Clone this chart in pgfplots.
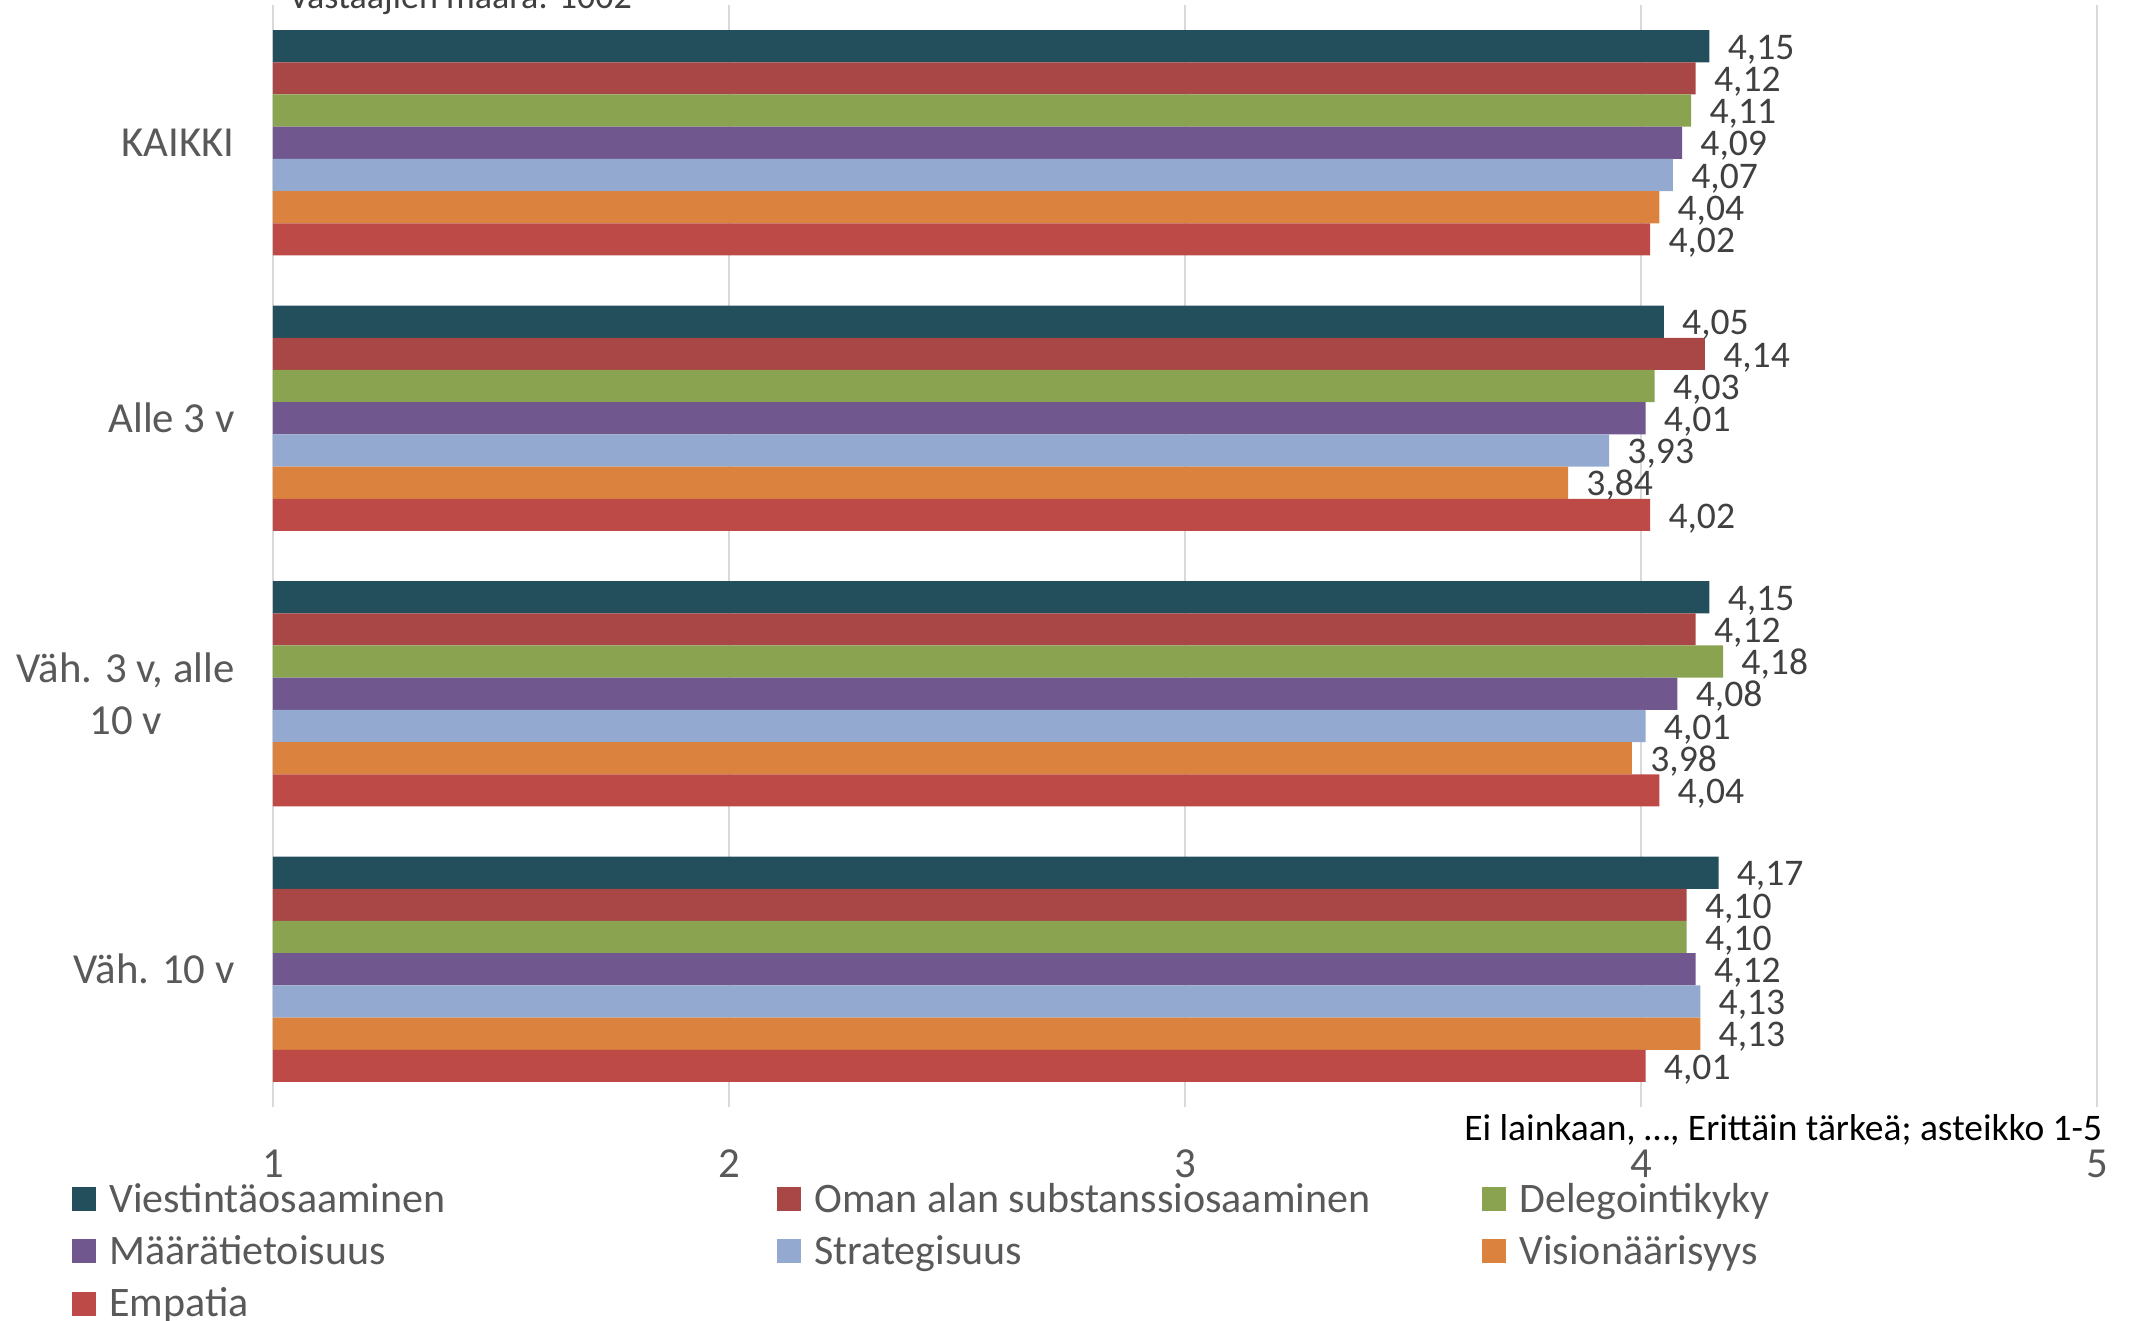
\documentclass[border=0pt]{standalone}
\usepackage{fontspec}
\setmainfont{Carlito}
\usepackage{pgfplots}
\pgfplotsset{compat=1.18}
\usepackage{pgfplotstable}

\definecolor{cViest}{HTML}{234E5B}
\definecolor{cOman}{HTML}{A84746}
\definecolor{cDeleg}{HTML}{8AA350}
\definecolor{cMaara}{HTML}{70578D}
\definecolor{cStrat}{HTML}{93A9CF}
\definecolor{cVisio}{HTML}{DB823E}
\definecolor{cEmpat}{HTML}{BE4A48}
\definecolor{gridgray}{HTML}{D9D9D9}
\definecolor{labelgray}{HTML}{595959}
\definecolor{valgray}{HTML}{404040}

% rows: KAIKKI, Alle 3 v, Väh. 3 v alle 10 v, Väh. 10 v
\pgfplotstableread{
y vi   om   de   ma   st   vis  em
0 4.15 4.12 4.11 4.09 4.07 4.04 4.02
1 4.05 4.14 4.03 4.01 3.93 3.84 4.02
2 4.15 4.12 4.18 4.08 4.01 3.98 4.04
3 4.17 4.10 4.10 4.12 4.13 4.13 4.01
}\datatable

\begin{document}
\begin{tikzpicture}
\begin{axis}[
  width=456pt, height=275.5pt, scale only axis,
  xmin=1, xmax=5, ymin=-0.5, ymax=3.5, y dir=reverse,
  xbar=0pt, bar width=8.05pt,
  xtick={1,2,3,4,5},
  ytick={0,1,2,3},
  yticklabels={KAIKKI, Alle 3 v, {Väh. 3 v, alle\\10 v}, Väh. 10 v},
  xmajorgrids, major grid style={draw=gridgray, line width=0.5pt},
  axis line style={draw=none}, major tick length=0pt, tick style={draw=none},
  /pgf/number format/assume math mode=true,
  xticklabel style={font=\fontsize{10.7}{12}\selectfont, text=labelgray,
    anchor=base, inner sep=0pt, yshift=-17.5pt},
  yticklabel style={font=\fontsize{10.7}{13}\selectfont, text=labelgray,
    align=center, anchor=east, inner sep=0pt, xshift=-9.4pt},
  point meta=x,
  nodes near coords={\pgfmathprintnumber[fixed,fixed zerofill,precision=2,use comma,assume math mode=true]{\pgfplotspointmeta}},
  every node near coord/.append style={anchor=base west, inner sep=0pt,
    xshift=4.4pt, yshift=-3.3pt, font=\fontsize{9.4}{10}\selectfont, text=valgray},
  legend columns=3,
  legend image code/.code={\fill[#1] (0pt,-2.2pt) rectangle (6pt,3.8pt);},
  legend style={at={(axis description cs:-0.1104,-0.0692)}, anchor=north west,
    draw=none, fill=none, inner sep=0pt,
    font=\fontsize{10.5}{12}\selectfont, text=labelgray,
    column sep=3.25pt, row sep=4.1pt,
    nodes={inner sep=0pt, text height=7pt, text depth=2pt},
    cells={anchor=west}},
]
\addplot[fill=cViest, draw=none, bar shift=24.15pt] table[x=vi, y=y] \datatable;
\addlegendentry{\makebox[163.75pt][l]{Viestintäosaaminen}}
\addplot[fill=cOman, draw=none, bar shift=16.1pt] table[x=om, y=y] \datatable;
\addlegendentry{\makebox[163.75pt][l]{Oman alan substanssiosaaminen}}
\addplot[fill=cDeleg, draw=none, bar shift=8.05pt] table[x=de, y=y] \datatable;
\addlegendentry{\makebox[163.75pt][l]{Delegointikyky}}
\addplot[fill=cMaara, draw=none, bar shift=0pt] table[x=ma, y=y] \datatable;
\addlegendentry{\makebox[163.75pt][l]{Määrätietoisuus}}
\addplot[fill=cStrat, draw=none, bar shift=-8.05pt] table[x=st, y=y] \datatable;
\addlegendentry{\makebox[163.75pt][l]{Strategisuus}}
\addplot[fill=cVisio, draw=none, bar shift=-16.1pt] table[x=vis, y=y] \datatable;
\addlegendentry{\makebox[163.75pt][l]{Visionäärisyys}}
\addplot[fill=cEmpat, draw=none, bar shift=-24.15pt] table[x=em, y=y] \datatable;
\addlegendentry{\makebox[163.75pt][l]{Empatia}}
\end{axis}
% texts outside the plot area (axis box: lower left at 0,0)
\node[anchor=base west, inner sep=0pt, font=\fontsize{9}{10}\selectfont, text=valgray]
  at (3.75pt,274.6pt) {Vastaajien määrä: 1002};
\node[anchor=base east, inner sep=0pt, font=\fontsize{9.37}{10}\selectfont, text=black]
  at (457.5pt,-8.25pt) {Ei lainkaan, \dots, Erittäin tärkeä; asteikko 1-5};
\pgfresetboundingbox
\useasboundingbox (-68.25pt,-53.25pt) rectangle (464.25pt,276.75pt);
\end{tikzpicture}
\end{document}
